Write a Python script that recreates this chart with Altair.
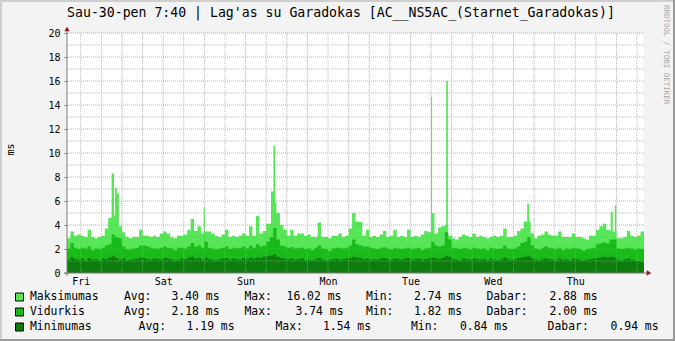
import altair as alt
import pandas as pd

# ---------------- data ----------------
TITLE = "Sau-30-pen 7:40 | Lag'as su Garadokas [AC__NS5AC_(Starnet_Garadokas)]"
WATERMARK = "RRDTOOL / TOBI OETIKER"
Y_TITLE = "ms"
DAY_LABELS = ["Fri", "Sat", "Sun", "Mon", "Tue", "Wed", "Thu"]
DAY_LABEL_HOURS = [4, 28, 52, 76, 100, 124, 148]          # noon of each day (hours since Fri 08:00)
MIDNIGHT_HOURS = [16, 40, 64, 88, 112, 136, 160]
SIX_HOUR_HOURS = [4, 10, 22, 28, 34, 46, 52, 58, 70, 76, 82, 94, 100, 106,
                  118, 124, 130, 142, 148, 154, 166]
Y_TICKS = [0, 2, 4, 6, 8, 10, 12, 14, 16, 18, 20]
Y_MINOR = [1, 3, 5, 7, 9, 11, 13, 15, 17, 19]
Y_MAJOR = [2, 4, 6, 8, 10, 12, 14, 16, 18, 20]

# hourly values, ms
MAX_MS = [
    2.9, 3.45, 3.1, 3.2, 3.1, 3.0, 3.6, 3.0, 2.9, 3.0,
    3.1, 3.7, 4.6, 4.8, 7.1, 3.9, 3.4, 3.0, 2.9, 3.0,
    3.0, 3.6, 3.1, 3.1, 3.0, 3.1, 3.0, 3.3, 3.45, 3.3,
    3.0, 2.9, 3.1, 3.1, 3.2, 3.6, 4.5, 3.5, 3.9, 3.3,
    3.45, 3.45, 3.3, 3.1, 3.0, 3.2, 3.6, 3.0, 3.1, 3.0,
    3.1, 3.3, 3.1, 3.9, 3.1, 4.75, 3.3, 3.5, 4.1, 4.1,
    6.0, 5.0, 4.0, 3.6, 3.1, 3.6, 3.1, 3.3, 3.3, 3.1,
    3.2, 3.0, 3.0, 4.2, 3.0, 3.0, 2.9, 3.1, 3.1, 3.3,
    3.0, 3.1, 3.7, 5.0, 4.3, 4.25, 3.1, 3.6, 3.0, 3.1,
    3.0, 3.2, 3.5, 3.0, 3.1, 3.6, 3.0, 3.1, 3.0, 3.6,
    3.0, 3.1, 3.0, 3.2, 3.5, 3.4, 5.0, 3.3, 3.8, 3.9,
    4.0, 3.1, 2.9, 2.8, 3.0, 3.2, 3.1, 3.0, 3.3, 3.0,
    3.1, 3.0, 2.9, 3.0, 3.1, 3.0, 3.1, 3.7, 3.0, 3.0,
    3.1, 3.5, 3.7, 4.3, 4.3, 3.3, 2.9, 3.1, 3.2, 3.45,
    3.2, 3.1, 3.1, 3.45, 3.0, 3.0, 3.0, 3.3, 3.0, 3.0,
    2.9, 2.8, 3.1, 3.1, 3.6, 3.9, 4.1, 3.6, 3.5, 3.45,
    2.9, 2.9, 3.0, 3.5, 3.1, 3.0, 3.1, 3.45,
]
# short peaks of the maximum series: (start hour, end hour, ms)
MAX_PEAKS = [
    (13.0, 13.7, 8.3), (14.5, 15.1, 6.6), (39.8, 40.1, 5.45),
    (59.4, 60.1, 6.8), (60.1, 60.6, 10.6), (60.6, 61.0, 5.9),
    (106.0, 106.3, 14.7), (110.4, 110.9, 16.0), (134.0, 134.6, 5.8),
    (158.3, 158.9, 5.1), (159.5, 159.9, 5.65),
]
AVG_MS = [
    2.05, 2.5, 2.1, 2.0, 2.1, 2.05, 2.2, 1.9, 2.05, 2.0,
    2.1, 2.3, 2.4, 3.2, 3.0, 2.9, 2.2, 2.0, 1.95, 2.05,
    2.1, 2.3, 2.3, 2.2, 2.1, 2.05, 2.05, 2.1, 2.2, 2.1,
    2.05, 1.9, 2.1, 2.1, 2.05, 2.2, 2.5, 2.2, 2.3, 2.1,
    2.6, 2.1, 2.05, 1.95, 2.05, 2.1, 2.2, 2.0, 2.1, 2.05,
    2.1, 2.2, 2.05, 2.3, 2.1, 2.4, 2.2, 2.3, 2.6, 3.0,
    3.74, 2.8, 2.3, 2.2, 2.1, 2.15, 2.05, 2.1, 2.1, 2.0,
    2.05, 1.9, 2.1, 2.3, 2.05, 2.0, 1.85, 2.05, 2.1, 2.1,
    2.05, 2.1, 2.3, 2.8, 2.4, 2.3, 2.2, 2.2, 2.1, 2.05,
    2.0, 2.1, 2.15, 2.05, 1.95, 2.1, 2.05, 2.0, 2.05, 2.1,
    2.0, 2.05, 2.1, 1.9, 2.05, 2.1, 2.6, 2.3, 2.2, 2.3,
    3.4, 2.8, 2.1, 2.05, 2.0, 2.1, 2.05, 1.95, 2.1, 2.05,
    2.0, 2.05, 1.9, 2.1, 2.05, 2.0, 2.05, 2.3, 2.05, 2.0,
    2.05, 2.2, 2.5, 2.6, 3.0, 2.3, 2.05, 1.95, 2.1, 2.2,
    2.1, 2.05, 2.0, 2.1, 1.9, 2.05, 2.0, 2.1, 2.05, 2.0,
    1.85, 2.0, 2.05, 2.1, 2.4, 2.5, 2.55, 2.45, 2.8, 2.8,
    2.05, 2.0, 2.05, 2.1, 2.05, 1.95, 2.05, 2.0,
]
MIN_MS = [
    1.1, 1.3, 1.15, 1.1, 1.2, 1.05, 1.25, 1.1, 1.15, 1.05,
    1.2, 1.15, 1.3, 1.4, 1.25, 1.1, 1.2, 1.05, 1.1, 1.15,
    1.2, 1.3, 1.25, 1.15, 1.1, 1.2, 1.15, 1.1, 1.25, 1.2,
    1.15, 1.05, 1.1, 1.2, 1.15, 1.3, 1.35, 1.2, 1.25, 1.1,
    1.3, 1.15, 1.1, 1.05, 1.15, 1.2, 1.25, 1.1, 1.2, 1.15,
    1.1, 1.25, 1.15, 1.3, 1.2, 1.3, 1.25, 1.35, 1.4, 1.45,
    1.54, 1.35, 1.25, 1.2, 1.15, 1.2, 1.1, 1.15, 1.2, 1.05,
    1.1, 1.05, 1.15, 1.25, 1.1, 1.05, 1.1, 1.15, 1.2, 1.1,
    1.15, 1.2, 1.25, 1.35, 1.3, 1.25, 1.15, 1.2, 1.1, 1.15,
    1.1, 1.2, 1.25, 1.15, 1.1, 1.2, 1.15, 1.1, 1.2, 1.25,
    1.1, 1.15, 1.2, 1.1, 1.15, 1.2, 1.3, 1.2, 1.15, 1.25,
    1.4, 1.35, 1.15, 1.1, 1.05, 1.2, 1.15, 1.1, 1.2, 1.15,
    1.1, 1.15, 1.05, 1.2, 1.1, 1.05, 1.15, 1.3, 1.15, 1.1,
    1.15, 1.25, 1.3, 1.35, 1.4, 1.2, 1.1, 1.05, 1.15, 1.2,
    1.15, 1.1, 1.05, 1.2, 1.1, 1.15, 1.05, 1.2, 1.15, 1.1,
    1.05, 1.1, 1.15, 1.2, 1.25, 1.3, 1.35, 1.3, 1.35, 1.3,
    1.1, 1.05, 1.15, 1.2, 1.1, 1.05, 1.0, 0.94,
]

SERIES_NAMES = ["Maksimumas", "Vidurkis", "Minimumas"]
STAT_AVG = [3.40, 2.18, 1.19]
STAT_MAX = [16.02, 3.74, 1.54]
STAT_MIN = [2.74, 1.82, 0.84]
STAT_CUR = [2.88, 2.00, 0.94]
STAT_LABELS = ["Avg:", "Max:", "Min:", "Dabar:"]

# ---------------- style / layout ----------------
COLORS = ["#57E657", "#1BBA1B", "#0E7C0E"]
MONO = "DejaVu Sans Mono"
PL, PT, PW, PH = 67, 33, 577, 240          # plot area in page pixels
LEG_ROW_Y = [297, 312, 327]
LEG_LABEL_X = [[124, 244.5, 366, 486.4], [124, 244.5, 366, 486.4], [138.6, 275.5, 411, 547.6]]
LEG_VALUE_END = [[219.5, 341.4, 462, 597.5], [219.5, 343.5, 462, 597.5], [234.6, 371, 508, 658.6]]

# ---------------- table: step segments ----------------
n = len(MAX_MS)
breaks = sorted(set(list(range(n + 1)) + [p[0] for p in MAX_PEAKS] + [p[1] for p in MAX_PEAKS]))
rows = []
for t in breaks:
    i = min(int(t), n - 1)
    mx = MAX_MS[i]
    for a, b, v in MAX_PEAKS:
        if a <= t < b:
            mx = v
    rows.append({"h": t, "mx": mx, "av": AVG_MS[i], "mn": MIN_MS[i]})
df = pd.DataFrame(rows)

xs = alt.Scale(domain=[0, n], nice=False, zero=False)
ys = alt.Scale(domain=[0, 20], nice=False)

label_expr = "[" + ",".join("'%s'" % d for d in DAY_LABELS) + "][round((datum.value-4)/24)]"

x_axis = alt.Axis(values=DAY_LABEL_HOURS, labelExpr=label_expr, ticks=False, domain=False,
                  grid=False, labelFont=MONO, labelFontSize=10, labelColor="#000000",
                  labelPadding=3, title=None)
y_axis = alt.Axis(values=Y_TICKS, domain=False, grid=False, ticks=True, tickSize=3,
                  tickColor="#7A7A7A", labelFont=MONO, labelFontSize=10, labelColor="#000000",
                  labelPadding=4, title=Y_TITLE, titleFont=MONO, titleFontSize=10,
                  titleFontWeight="normal", titleColor="#000000", titleX=-52, titleY=116)


def area(field, color):
    return alt.Chart(df).mark_area(interpolate="step-after", color=color, opacity=1).encode(
        x=alt.X("h:Q", scale=xs, axis=x_axis),
        y=alt.Y(field + ":Q", scale=ys, axis=y_axis),
    )


areas = [area("mx", COLORS[0]), area("av", COLORS[1]), area("mn", COLORS[2])]

vminor = alt.Chart(pd.DataFrame({"h": SIX_HOUR_HOURS})).mark_rule(
    color="#A0A0A0", strokeDash=[1, 1], opacity=0.7).encode(x=alt.X("h:Q", scale=xs, axis=x_axis))
vmajor = alt.Chart(pd.DataFrame({"h": MIDNIGHT_HOURS})).mark_rule(
    color="#E07070", strokeDash=[1, 1], opacity=0.7).encode(x=alt.X("h:Q", scale=xs, axis=x_axis))
hminor = alt.Chart(pd.DataFrame({"v": Y_MINOR})).mark_rule(
    color="#A0A0A0", strokeDash=[1, 1], opacity=0.7).encode(y=alt.Y("v:Q", scale=ys, axis=y_axis))
hmajor = alt.Chart(pd.DataFrame({"v": Y_MAJOR})).mark_rule(
    color="#E07070", strokeDash=[1, 1], opacity=0.7).encode(y=alt.Y("v:Q", scale=ys, axis=y_axis))

one = pd.DataFrame({"k": [0]})
yline = alt.Chart(one).mark_rule(color="#7A7A7A").encode(
    x=alt.value(0), y=alt.value(-5), y2=alt.value(PH + 3))
xline = alt.Chart(one).mark_rule(color="#7A7A7A").encode(
    x=alt.value(-3), x2=alt.value(PW + 4), y=alt.value(PH))
arrow_up = alt.Chart(one).mark_point(shape="triangle-up", filled=True, size=28, color="#8B1C1C",
                                     opacity=1).encode(x=alt.value(0), y=alt.value(-4))
arrow_right = alt.Chart(one).mark_point(shape="triangle-right", filled=True, size=28,
                                        color="#8B1C1C", opacity=1).encode(
    x=alt.value(PW + 5), y=alt.value(PH))

title = alt.Chart(one).mark_text(text=TITLE, font=MONO, fontSize=13.2, align="center",
                                 baseline="middle", color="#000000").encode(
    x=alt.value(341 - PL), y=alt.value(13 - PT))
watermark = alt.Chart(one).mark_text(text=WATERMARK, font=MONO, fontSize=7.5, align="left",
                                     baseline="middle", angle=90, color="#A8A8A8").encode(
    x=alt.value(666 - PL), y=alt.value(5 - PT))

# legend
left_rows, right_rows, sq_rows = [], [], []
for i, name in enumerate(SERIES_NAMES):
    yy = LEG_ROW_Y[i] - PT
    left_rows.append({"t": name, "x": 30 - PL, "y": yy})
    sq_rows.append({"x": 19.5 - PL, "y": yy, "c": COLORS[i]})
    vals = [STAT_AVG[i], STAT_MAX[i], STAT_MIN[i], STAT_CUR[i]]
    for j, lab in enumerate(STAT_LABELS):
        left_rows.append({"t": lab, "x": LEG_LABEL_X[i][j] - PL, "y": yy})
        right_rows.append({"t": "%.2f ms" % vals[j], "x": LEG_VALUE_END[i][j] - PL, "y": yy})

leg_left = alt.Chart(pd.DataFrame(left_rows)).mark_text(
    font=MONO, fontSize=11.4, align="left", baseline="middle", color="#000000").encode(
    x=alt.X("x:Q", scale=None), y=alt.Y("y:Q", scale=None), text="t:N")
leg_right = alt.Chart(pd.DataFrame(right_rows)).mark_text(
    font=MONO, fontSize=11.4, align="right", baseline="middle", color="#000000").encode(
    x=alt.X("x:Q", scale=None), y=alt.Y("y:Q", scale=None), text="t:N")
leg_sq = alt.Chart(pd.DataFrame(sq_rows)).mark_square(
    size=64, filled=True, opacity=1, stroke="#000000", strokeWidth=1).encode(
    x=alt.X("x:Q", scale=None), y=alt.Y("y:Q", scale=None), color=alt.Color("c:N", scale=None))

# frame shading
fl = alt.Chart(one).mark_rule(color="#CFCFCF", strokeWidth=2).encode(
    x=alt.value(1 - PL), y=alt.value(-PT), y2=alt.value(341 - PT))
ft = alt.Chart(one).mark_rule(color="#CFCFCF", strokeWidth=2).encode(
    x=alt.value(-PL), x2=alt.value(675 - PL), y=alt.value(1 - PT))
fr = alt.Chart(one).mark_rule(color="#9A9A9A", strokeWidth=2).encode(
    x=alt.value(674 - PL), y=alt.value(-PT), y2=alt.value(341 - PT))
fb = alt.Chart(one).mark_rule(color="#9A9A9A", strokeWidth=2).encode(
    x=alt.value(-PL), x2=alt.value(675 - PL), y=alt.value(340 - PT))

chart = alt.layer(
    *areas, vminor, hminor, vmajor, hmajor, yline, xline, arrow_up, arrow_right,
    title, watermark, leg_sq, leg_left, leg_right, fl, ft, fr, fb,
).properties(
    width=PW, height=PH,
    autosize=alt.AutoSizeParams(type="none"),
    padding={"left": PL, "top": PT, "right": 675 - PL - PW, "bottom": 341 - PT - PH},
    background="#F3F3F3",
).configure_view(fill="#FFFFFF", strokeWidth=0)

chart.save("out.html", embed_options={"renderer": "svg", "actions": False})
